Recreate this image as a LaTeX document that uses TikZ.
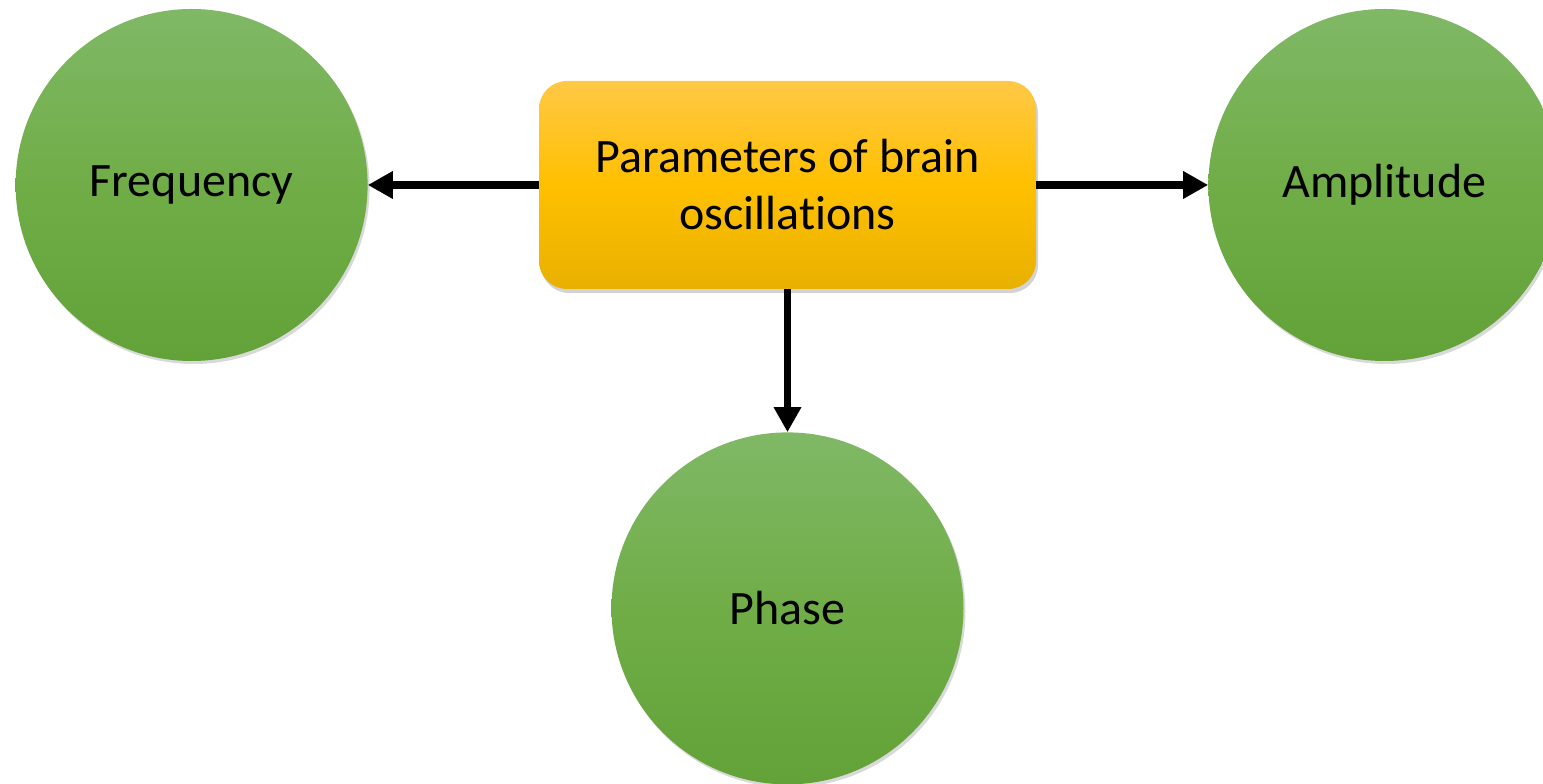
\documentclass[tikz,border=0pt]{standalone}
\usepackage{fontspec}
\setmainfont{Carlito}[Ligatures={NoCommon,NoRare}]
\usetikzlibrary{
    arrows.meta,
    shadows,
    positioning
}

\definecolor{leafgreen}{HTML}{70AD47}
\definecolor{leaftop}{HTML}{80B866}
\definecolor{leafbottom}{HTML}{62A238}
\definecolor{goldmid}{HTML}{FFC000}
\definecolor{goldtop}{HTML}{FFC846}
\definecolor{goldbottom}{HTML}{E8B000}

\begin{document}
\begin{tikzpicture}[x=1pt,y=1pt,
    node distance=171pt,
    param/.style={circle, minimum size=352pt, inner sep=0pt,
        top color=leaftop, bottom color=leafbottom, middle color=leafgreen,
        drop shadow={opacity=0.3, shadow xshift=2pt, shadow yshift=-3pt},
        font=\fontsize{48}{57}\selectfont},
    hub/.style={rectangle, rounded corners=28pt, minimum width=497pt,
        minimum height=208pt, align=center,
        top color=goldtop, bottom color=goldbottom, middle color=goldmid,
        drop shadow={opacity=0.35, shadow xshift=2pt, shadow yshift=-4pt},
        font=\fontsize{48}{57}\selectfont},
    link/.style={line width=7.5pt, -{Triangle[length=25pt,width=26pt]}}]
    \useasboundingbox (0,0) rectangle (1543,784);

    \node[hub] (params) at (787.5,599) {Parameters of brain\\oscillations};
    \node[param] (freq) [left=of params] {Frequency};
    \node[param] (ampl) [right=172pt of params] {Amplitude};
    \node[param] (phase) [below=143pt of params] {Phase};

    \path[link] (params) edge (freq)
                (params) edge (ampl)
                (params) edge (phase);
\end{tikzpicture}
\end{document}
